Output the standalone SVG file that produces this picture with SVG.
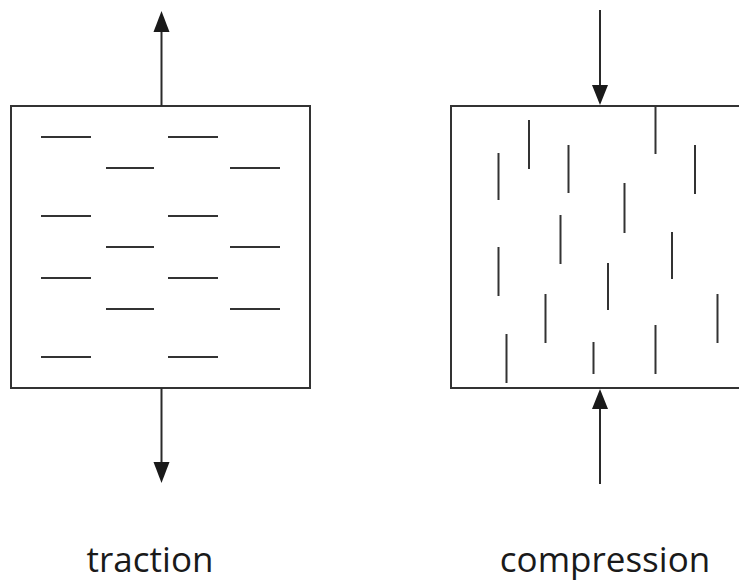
<svg xmlns="http://www.w3.org/2000/svg" width="739" height="582" viewBox="0 0 739 582">
<style>
.box{fill:#fff;stroke:#333;stroke-width:2}
.crack{stroke:#333;stroke-width:2;stroke-linecap:butt}
.shaft{stroke:#2a2a2a;stroke-width:2;fill:none}
.head{fill:#1a1a1a}
.label{font-family:"Open Sans","Noto Sans",sans-serif;font-size:35px;fill:#1a1a1a;text-anchor:middle}
</style>
<rect width="739" height="582" fill="#fff"/>
<g id="traction">
<rect class="box" x="11" y="106" width="299" height="282"/>
<g class="crack">
<line x1="41" y1="137" x2="91" y2="137"/><line x1="168" y1="137" x2="218" y2="137"/>
<line x1="106" y1="168" x2="154" y2="168"/><line x1="230" y1="168" x2="280" y2="168"/>
<line x1="41" y1="216" x2="91" y2="216"/><line x1="168" y1="216" x2="218" y2="216"/>
<line x1="106" y1="247" x2="154" y2="247"/><line x1="230" y1="247" x2="280" y2="247"/>
<line x1="41" y1="278" x2="91" y2="278"/><line x1="168" y1="278" x2="218" y2="278"/>
<line x1="106" y1="309" x2="154" y2="309"/><line x1="230" y1="309" x2="280" y2="309"/>
<line x1="41" y1="357" x2="91" y2="357"/><line x1="168" y1="357" x2="218" y2="357"/>
</g>
<text class="label" x="150" y="572">traction</text>
</g>
<g id="compression">
<path class="box" d="M750 106 H451 V388 H750"/>
<g class="crack">
<line x1="529" y1="120" x2="529" y2="169"/>
<line x1="498.5" y1="153" x2="498.5" y2="200"/>
<line x1="568.5" y1="145" x2="568.5" y2="193"/>
<line x1="624.5" y1="183" x2="624.5" y2="233"/>
<line x1="655.5" y1="106" x2="655.5" y2="154"/>
<line x1="695" y1="145" x2="695" y2="194"/>
<line x1="560.5" y1="215" x2="560.5" y2="264"/>
<line x1="498.5" y1="247" x2="498.5" y2="296"/>
<line x1="608" y1="263" x2="608" y2="310"/>
<line x1="672" y1="232" x2="672" y2="279"/>
<line x1="545.5" y1="294" x2="545.5" y2="343"/>
<line x1="717.5" y1="294" x2="717.5" y2="343"/>
<line x1="506.5" y1="334" x2="506.5" y2="383"/>
<line x1="593.5" y1="342" x2="593.5" y2="374"/>
<line x1="655.5" y1="325" x2="655.5" y2="374"/>
</g>
<text class="label" x="605" y="572">compression</text>
</g>
<g id="connectors">
<line class="shaft" x1="161.5" y1="30" x2="161.5" y2="106"/>
<polygon class="head" points="161.5,11 153.5,32 169.5,32"/>
<line class="shaft" x1="161.5" y1="388" x2="161.5" y2="465"/>
<polygon class="head" points="161.5,483 153.5,462 169.5,462"/>
<line class="shaft" x1="600" y1="10" x2="600" y2="88"/>
<polygon class="head" points="600,105 592,85 608,85"/>
<line class="shaft" x1="600" y1="407" x2="600" y2="484"/>
<polygon class="head" points="600,389 592,409 608,409"/>
</g>
</svg>
